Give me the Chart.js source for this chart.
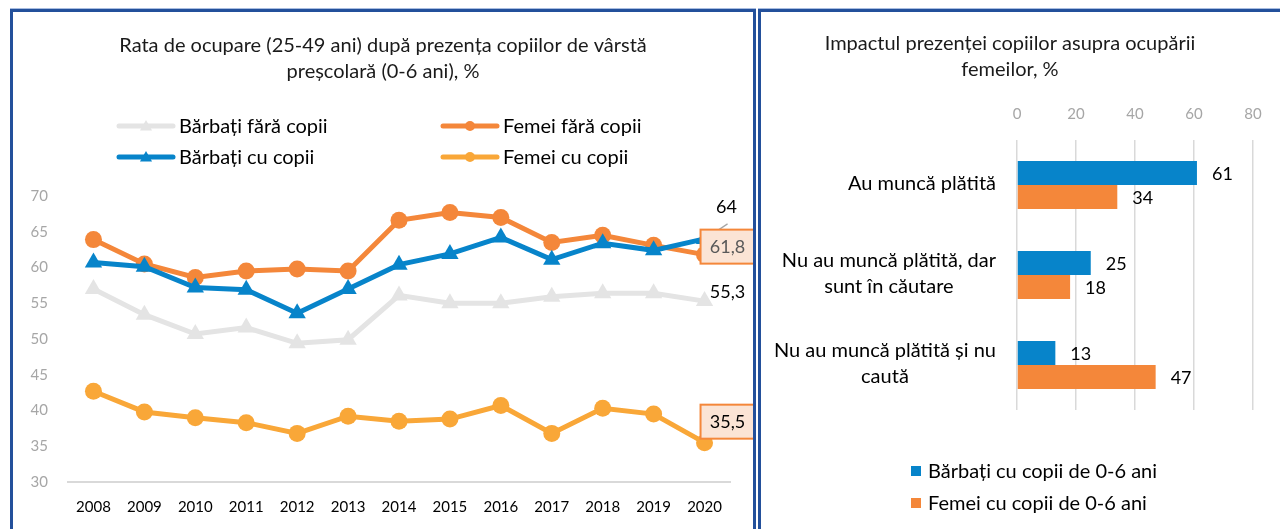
<!DOCTYPE html>
<html lang="ro">
<head>
<meta charset="utf-8">
<title>Rata de ocupare și prezența copiilor</title>
<script src="https://cdn.jsdelivr.net/npm/chart.js@4.4.0/dist/chart.umd.min.js"></script>
<style>
  html, body { margin: 0; padding: 0; background: #fff; }
  body { width: 1280px; height: 529px; overflow: hidden; position: relative; font-family: Lato, sans-serif; }
  .panel { position: absolute; top: 9px; border: 3px solid #23509b; border-bottom: none; box-shadow: 0 -1px 0 #a9bde0; }
  #panelLeft { left: 10px; width: 740px; height: 520px; }
  #panelRight { left: 758px; width: 540px; height: 520px; border-right: none; }
  canvas { display: block; }
</style>
</head>
<body>
<div class="panel" id="panelLeft"><canvas id="lineChart" width="740" height="517"></canvas></div>
<div class="panel" id="panelRight"><canvas id="barChart" width="519" height="517"></canvas></div>

<script>
// ---- DATA: rata de ocupare 25-49 ani ----
const years = ['2008', '2009', '2010', '2011', '2012', '2013', '2014', '2015', '2016', '2017', '2018', '2019', '2020'];
const barbatiFaraCopii = [57.0, 53.4, 50.7, 51.6, 49.4, 49.9, 56.1, 55.0, 55.0, 55.9, 56.4, 56.4, 55.3];
const femeiFaraCopii   = [63.9, 60.5, 58.6, 59.5, 59.8, 59.5, 66.6, 67.7, 67.0, 63.5, 64.5, 63.1, 61.8];
const barbatiCuCopii   = [60.7, 60.1, 57.2, 56.9, 53.6, 57.0, 60.4, 61.9, 64.2, 61.1, 63.4, 62.4, 64];
const femeiCuCopii     = [42.7, 39.8, 39.0, 38.3, 36.8, 39.2, 38.5, 38.8, 40.7, 36.8, 40.3, 39.5, 35.5];
const rateTicks = { min: 30, max: 70, step: 5 };

// ---- DATA: impactul prezentei copiilor ----
const impactCategories = [
    ['Au muncă plătită'],
    ['Nu au muncă plătită, dar', 'sunt în căutare'],
    ['Nu au muncă plătită și nu', 'caută']
];
const barbatiCuCopii06 = [61, 25, 13];
const femeiCuCopii06   = [34, 18, 47];
const impactTicks = { min: 0, max: 80, step: 20 };

// colours
const GRAY_LINE = '#e4e4e4';
const ORANGE = '#f4873a';
const BLUE = '#0784ca';
const LIGHT_ORANGE = '#f9a738';
const FONT = "Lato, 'Open Sans', sans-serif";

Chart.defaults.font.family = FONT;
Chart.defaults.animation = false;

const fmt = v => String(v).replace('.', ',');

function drawMarker(ctx, style, x, y, r, color) {
    ctx.fillStyle = color;
    ctx.beginPath();
    if (style === 'triangle') {
        ctx.moveTo(x, y - r);
        ctx.lineTo(x + r * 0.866, y + r * 0.5);
        ctx.lineTo(x - r * 0.866, y + r * 0.5);
        ctx.closePath();
    } else {
        ctx.arc(x, y, r, 0, Math.PI * 2);
    }
    ctx.fill();
}

// 1. LEFT: line chart
// ------------------------------------------------------------------
const lineSeries = [
    { label: 'Bărbați fără copii', data: barbatiFaraCopii, color: GRAY_LINE, style: 'triangle', order: 4 },
    { label: 'Femei fără copii', data: femeiFaraCopii, color: ORANGE, style: 'circle', order: 3 },
    { label: 'Bărbați cu copii', data: barbatiCuCopii, color: BLUE, style: 'triangle', order: 2 },
    { label: 'Femei cu copii', data: femeiCuCopii, color: LIGHT_ORANGE, style: 'circle', order: 1 }
];

const lineDecor = {
    id: 'lineDecor',
    afterDraw(chart) {
        const ctx = chart.ctx;
        ctx.save();

        // title
        ctx.fillStyle = '#1a1a1a';
        ctx.font = `20px ${FONT}`;
        ctx.textAlign = 'center';
        ctx.textBaseline = 'middle';
        ctx.fillText('Rata de ocupare (25-49 ani) după prezența copiilor de vârstă', 370, 34, 530);
        ctx.fillText('preșcolară (0-6 ani), %', 370, 60, 530);

        // legend (two columns, Excel style line + marker)
        const slots = [[106, 114], [430, 114], [106, 145], [430, 145]];
        ctx.font = `20px ${FONT}`;
        ctx.textAlign = 'left';
        lineSeries.forEach((s, k) => {
            const [lx, ly] = slots[k];
            ctx.strokeStyle = s.color;
            ctx.lineWidth = 5;
            ctx.lineCap = 'round';
            ctx.beginPath();
            ctx.moveTo(lx, ly);
            ctx.lineTo(lx + 54, ly);
            ctx.stroke();
            drawMarker(ctx, s.style, lx + 27, ly + (s.style === 'triangle' ? 1 : 0), s.style === 'triangle' ? 7 : 5, s.color);
            ctx.fillStyle = '#000';
            ctx.fillText(s.label, lx + 60, ly + 1);
        });
        ctx.restore();
    },
    afterDatasetsDraw(chart) {
        const ctx = chart.ctx;
        const last = years.length - 1;
        const pt = i => chart.getDatasetMeta(i).data[last];
        ctx.save();
        ctx.font = `18px ${FONT}`;
        ctx.textAlign = 'center';
        ctx.textBaseline = 'middle';

        // Bărbați cu copii: label above with leader line
        let p = pt(2);
        ctx.strokeStyle = '#a6a6a6';
        ctx.lineWidth = 1.3;
        ctx.beginPath();
        ctx.moveTo(p.x + 2, p.y - 1);
        ctx.lineTo(p.x + 23, p.y - 15);
        ctx.stroke();
        ctx.fillStyle = '#000';
        ctx.fillText(fmt(barbatiCuCopii[last]), p.x + 22, p.y - 32);

        // boxed labels
        const box = (x, y, txt, col) => {
            ctx.fillStyle = '#fbe4d5';
            ctx.strokeStyle = ORANGE;
            ctx.lineWidth = 2;
            ctx.fillRect(x - 27, y - 17, 54, 34);
            ctx.strokeRect(x - 27, y - 17, 54, 34);
            ctx.fillStyle = col;
            ctx.fillText(txt, x, y + 1);
        };
        p = pt(1);
        box(p.x + 23, p.y - 8, fmt(femeiFaraCopii[last]), '#595959');

        p = pt(0);
        ctx.fillStyle = '#000';
        ctx.fillText(fmt(barbatiFaraCopii[last]), p.x + 23, p.y - 9);

        p = pt(3);
        box(p.x + 23, p.y - 21, fmt(femeiCuCopii[last]), '#000');
        ctx.restore();
    }
};

new Chart(document.getElementById('lineChart'), {
    type: 'line',
    data: {
        labels: years,
        datasets: lineSeries.map(s => ({
            label: s.label,
            data: s.data,
            order: s.order,
            borderColor: s.color,
            backgroundColor: s.color,
            borderWidth: 5,
            pointStyle: s.style,
            pointRadius: s.style === 'triangle' ? 10 : 8.5,
            pointBorderWidth: 0,
            pointBackgroundColor: s.color,
            tension: 0
        }))
    },
    options: {
        responsive: false,
        devicePixelRatio: 1,
        layout: { padding: { top: 184, right: 23, bottom: 0, left: 0 } },
        plugins: { legend: { display: false }, tooltip: { enabled: false }, title: { display: false } },
        scales: {
            x: {
                offset: true,
                grid: { display: false, drawTicks: false },
                border: { display: true, color: '#d9d9d9', width: 2 },
                ticks: { color: '#000', font: { size: 15 }, padding: 16, maxRotation: 0 },
                afterFit: s => { s.height = 47; }
            },
            y: {
                min: rateTicks.min,
                max: rateTicks.max,
                grid: { display: false, drawTicks: false },
                border: { display: false },
                ticks: { stepSize: rateTicks.step, color: '#a6a6a6', font: { size: 15 }, padding: 20 },
                afterFit: s => { s.width = 55; }
            }
        }
    },
    plugins: [lineDecor]
});

// 2. RIGHT: horizontal bar chart
// ------------------------------------------------------------------
const barDecor = {
    id: 'barDecor',
    afterDraw(chart) {
        const ctx = chart.ctx;
        const yScale = chart.scales.y;
        ctx.save();
        ctx.fillStyle = '#1a1a1a';
        ctx.font = `20px ${FONT}`;
        ctx.textAlign = 'center';
        ctx.textBaseline = 'middle';
        ctx.fillText('Impactul prezenței copiilor asupra ocupării', 249, 32, 376);
        ctx.fillText('femeilor, %', 249, 58, 376);

        // category labels: block right-aligned, lines centred inside block
        ctx.fillStyle = '#000';
        ctx.font = `20px ${FONT}`;
        impactCategories.forEach((lines, i) => {
            const cy = yScale.getPixelForTick(i) - 1;
            const w = Math.max(...lines.map(l => ctx.measureText(l).width));
            const cx = 235 - w / 2;
            lines.forEach((l, k) => {
                ctx.fillText(l, cx, cy + (k - (lines.length - 1) / 2) * 26);
            });
        });

        // value labels
        ctx.font = `18px ${FONT}`;
        ctx.textAlign = 'left';
        chart.data.datasets.forEach((ds, di) => {
            chart.getDatasetMeta(di).data.forEach((bar, i) => {
                ctx.fillText(String(ds.data[i]), bar.x + 15, bar.y + 1);
            });
        });

        // legend
        ctx.font = `20px ${FONT}`;
        chart.data.datasets.forEach((ds, di) => {
            const ly = 459 + di * 32;
            ctx.fillStyle = ds.backgroundColor;
            ctx.fillRect(150, ly - 5, 10, 10);
            ctx.fillStyle = '#000';
            ctx.fillText(ds.label, 167, ly + 1);
        });
        ctx.restore();
    }
};

new Chart(document.getElementById('barChart'), {
    type: 'bar',
    data: {
        labels: impactCategories,
        datasets: [
            { label: 'Bărbați cu copii de 0-6 ani', data: barbatiCuCopii06, backgroundColor: BLUE },
            { label: 'Femei cu copii de 0-6 ani', data: femeiCuCopii06, backgroundColor: ORANGE }
        ]
    },
    options: {
        indexAxis: 'y',
        responsive: false,
        devicePixelRatio: 1,
        layout: { padding: { top: 88, right: 27, bottom: 119, left: 256 } },
        plugins: { legend: { display: false }, tooltip: { enabled: false }, title: { display: false } },
        datasets: { bar: { categoryPercentage: 0.533, barPercentage: 1 } },
        scales: {
            x: {
                position: 'top',
                min: impactTicks.min,
                max: impactTicks.max,
                grid: { color: '#d9d9d9', lineWidth: 1.5, drawTicks: false },
                border: { display: false },
                ticks: { stepSize: impactTicks.step, color: '#a6a6a6', font: { size: 15 }, padding: 17 },
                afterFit: s => { s.height = 40; }
            },
            y: { display: false }
        }
    },
    plugins: [barDecor]
});
</script>
</body>
</html>
